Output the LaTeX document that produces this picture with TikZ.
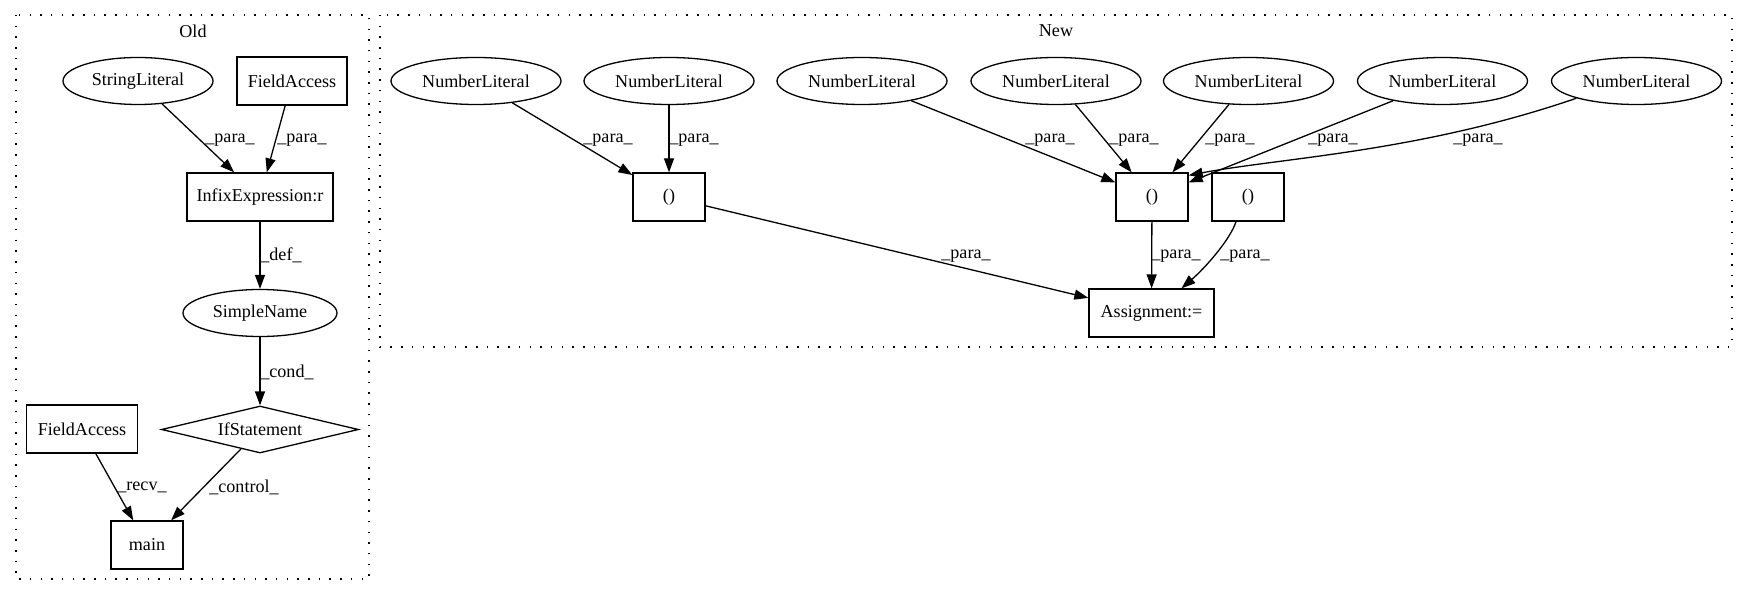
\documentclass[tikz,border=0pt]{standalone}
\usepackage{fontspec}
\setmainfont{Liberation Serif}
\usetikzlibrary{shapes.geometric,arrows.meta,calc}
\begin{document}
\begin{tikzpicture}[x=1pt,y=-1pt,
  every node/.style={font=\fontsize{18.1}{21}\selectfont, inner sep=0pt},
  ell/.style={draw, ellipse, line width=1.3pt, minimum width=170pt, minimum height=47pt},
  box/.style={draw, rectangle, line width=1.3pt, minimum height=48pt, minimum width=72pt},
  dia/.style={draw, diamond, aspect=4.19, line width=1.3pt, minimum width=197pt, minimum height=47pt},
  edge/.style={draw, line width=1.3pt, -{Triangle[length=14pt,width=10pt]}},
  cluster/.style={draw, line width=1.5pt, dash pattern=on 1.5pt off 9.2pt}
]
\useasboundingbox (0,0) rectangle (1748,596);
% clusters
\draw[cluster] (16,15) rectangle (369,579);
\draw[cluster] (380,15) rectangle (1732,347);
\node (oldlbl) at (193,31) {Old};
\node (newlbl) at (1056,31) {New};
% Old nodes
\node[ell, minimum width=150pt] (sl) at (138,81) {StringLiteral};
\node[box, minimum width=110pt] (fa1) at (292,81) {FieldAccess};
\node[box, minimum width=146pt] (infix) at (260,197) {InfixExpression:r};
\node[ell, minimum width=154pt] (sn) at (260,313) {SimpleName};
\node[dia] (ifs) at (260,429.5) {IfStatement};
\node[box, minimum width=111pt] (fa2) at (82,429) {FieldAccess};
\node[box, minimum width=72pt] (main) at (147,545) {main};
% New nodes
\node[ell] (nl1) at (476,81) {NumberLiteral};
\node[ell] (nl2) at (669,81) {NumberLiteral};
\node[ell] (nl3) at (862,81) {NumberLiteral};
\node[ell] (nl4) at (1056,81) {NumberLiteral};
\node[ell] (nl5) at (1248.5,81) {NumberLiteral};
\node[ell] (nl6) at (1442.5,81) {NumberLiteral};
\node[ell] (nl7) at (1636.5,81) {NumberLiteral};
\node[box] (box1) at (669,197) {()};
\node[box] (box2) at (1152,197) {()};
\node[box] (box3) at (1248,197) {()};
\node[box, minimum width=125pt] (assign) at (1151.5,313) {Assignment:=};
% Old edges
\draw[edge] (sl) -- (infix);
\draw[edge] (fa1) -- (infix);
\draw[edge] (infix) -- (sn);
\draw[edge] (sn) -- (ifs);
\draw[edge] (fa2) -- (main);
\draw[edge] (ifs) -- (main);
% New edges
\draw[edge] (nl1) -- (box1);
\draw[edge] (nl2) -- (box1);
\draw[edge] (box1) -- (assign);
\draw[edge] (nl3) -- (box2);
\draw[edge] (nl4) -- (box2);
\draw[edge] (nl5) -- (box2);
\draw[edge] (nl6) -- (box2);
\draw[edge] (nl7.196) .. controls (1420,152) and (1280,158) .. ($(box2.north east)+(0,3)$);
\draw[edge] (box2) -- (assign);
\draw[edge] ($(box3.south)+(-12,0)$) .. controls (1230,240) and (1205,268) .. ($(assign.north)+(30,0)$);
% labels
\node (l1) at (230,140) {\_para\_};
\node (l2) at (302,140) {\_para\_};
\node (l3) at (281,255) {\_def\_};
\node (l4) at (287,372) {\_cond\_};
\node (l5) at (142,487) {\_recv\_};
\node (l6) at (244,487) {\_control\_};
\node (l7) at (608,140) {\_para\_};
\node (l8) at (694,140) {\_para\_};
\node (l9) at (1050,140) {\_para\_};
\node (l10) at (1134,140) {\_para\_};
\node (l11) at (1230,140) {\_para\_};
\node (l12) at (1333,140) {\_para\_};
\node (l13) at (1478,140) {\_para\_};
\node (l14) at (966,256) {\_para\_};
\node (l15) at (1176,256) {\_para\_};
\node (l16) at (1245,256) {\_para\_};
\end{tikzpicture}
\end{document}
